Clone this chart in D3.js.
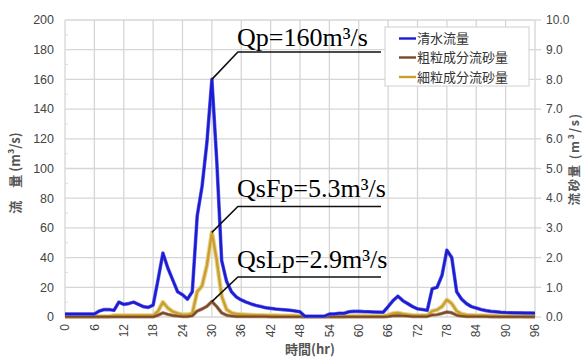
<!DOCTYPE html>
<html><head><meta charset="utf-8">
<script src="https://cdn.jsdelivr.net/npm/d3@7"></script>
<style>
html,body{margin:0;padding:0;background:#fff;}
svg{display:block;}
</style></head>
<body>
<svg id="c" width="584" height="358"></svg>
<script>
// ---- data ----
const hours = [0,1,2,3,4,5,6,7,8,9,10,11,12,13,14,15,16,17,18,19,20,21,22,23,24,25,26,27,28,29,30,31,32,33,34,35,36,37,38,39,40,41,42,43,44,45,46,47,48,49,50,51,52,53,54,55,56,57,58,59,60,61,62,63,64,65,66,67,68,69,70,71,72,73,74,75,76,77,78,79,80,81,82,83,84,85,86,87,88,89,90,91,92,93,94,95,96];
// 清水流量 (m3/s, left axis)
const clearWater = [2,2,2,2,2,2,2,4,5,5,4.5,10,8.5,9,10,8.5,7,6.5,8,25,43,33,25,17,15,12,17,68,88,118,160,105,38,24,17,13.5,11.5,10,8.8,7.8,7,6.2,5.8,5.4,5.1,4.8,4.5,4,3.5,0.5,0.5,0.5,0.5,0.5,2,2,2.5,2.5,3.5,3.8,3.8,3.6,3.5,3.4,3.3,3.2,7,11,14,11,9,7,5.5,5,4.5,19,20,28,45,40,17,12,9,7,6,5,4.3,3.8,3.5,3.2,3,2.9,2.8,2.8,2.7,2.7,2.6];
// 粗粒成分流砂量 (m3/s, right axis)
const coarseSed = [0.01,0.01,0.01,0.01,0.01,0.01,0.01,0.01,0.01,0.01,0.01,0.01,0.01,0.01,0.01,0.01,0.01,0.01,0.01,0.06,0.14,0.09,0.05,0.03,0.02,0.02,0.04,0.2,0.27,0.36,0.52,0.35,0.14,0.06,0.03,0.02,0.02,0.02,0.02,0.02,0.02,0.02,0.01,0.01,0.01,0.01,0.01,0.01,0.01,0.01,0.01,0.01,0.01,0.01,0.01,0.01,0.01,0.01,0.01,0.01,0.01,0.01,0.01,0.01,0.01,0.01,0.02,0.04,0.05,0.04,0.03,0.02,0.02,0.02,0.02,0.07,0.08,0.12,0.17,0.14,0.06,0.03,0.02,0.02,0.02,0.02,0.02,0.01,0.01,0.01,0.01,0.01,0.01,0.01,0.01,0.01,0.01];
// 細粒成分流砂量 (m3/s, right axis)
const fineSed = [0.02,0.02,0.02,0.02,0.02,0.02,0.02,0.02,0.02,0.02,0.05,0.05,0.05,0.05,0.05,0.05,0.05,0.05,0.05,0.2,0.5,0.3,0.18,0.12,0.08,0.08,0.12,0.85,1.05,1.75,2.85,1.9,0.7,0.25,0.14,0.1,0.09,0.08,0.07,0.06,0.06,0.05,0.05,0.05,0.04,0.04,0.04,0.04,0.03,0.01,0.01,0.01,0.01,0.01,0.02,0.02,0.02,0.02,0.03,0.03,0.03,0.03,0.03,0.03,0.03,0.03,0.06,0.12,0.14,0.1,0.08,0.06,0.05,0.05,0.05,0.2,0.24,0.35,0.58,0.45,0.2,0.1,0.07,0.06,0.05,0.05,0.04,0.04,0.04,0.03,0.03,0.03,0.03,0.03,0.02,0.02,0.02];

const xTicks = [0,6,12,18,24,30,36,42,48,54,60,66,72,78,84,90,96];
const leftTicks = [0,20,40,60,80,100,120,140,160,180,200];
const rightTicks = [0,1,2,3,4,5,6,7,8,9,10];
const seriesNames = ["清水流量","粗粒成分流砂量","細粒成分流砂量"];
const annotations = ["Qp=160m³/s","QsFp=5.3m³/s","QsLp=2.9m³/s"];
const xTitle = "時間(hr)";
const leftTitle = "流　量 (m³/s)";
const rightTitle = "流砂量 (m³/s)";

// ---- chart ----
const svg = d3.select("#c");
const x = d3.scaleLinear().domain([0,96]).range([65,535]);
const yL = d3.scaleLinear().domain([0,200]).range([317,20]);
const yR = d3.scaleLinear().domain([0,10]).range([317,20]);
const sansNum = "'Liberation Sans', Arial, sans-serif";
const cjk = "'Noto Sans CJK JP', 'Noto Sans CJK SC', sans-serif";
const gridCol = "#d6d6d6";

// grid
const g = svg.append("g");
g.selectAll("line.h").data(leftTicks).join("line")
  .attr("x1", x(0)).attr("x2", x(96))
  .attr("y1", d=>yL(d)).attr("y2", d=>yL(d))
  .attr("stroke", gridCol).attr("stroke-width", 1.3);
g.selectAll("line.v").data(xTicks).join("line")
  .attr("x1", d=>x(d)).attr("x2", d=>x(d))
  .attr("y1", yL(0)).attr("y2", yL(200))
  .attr("stroke", gridCol).attr("stroke-width", 1.3);
// right outward ticks
g.selectAll("line.rt").data(rightTicks).join("line")
  .attr("x1", x(96)).attr("x2", x(96)+6)
  .attr("y1", d=>yR(d)).attr("y2", d=>yR(d))
  .attr("stroke", gridCol).attr("stroke-width", 1.3);
// left minor ticks
g.selectAll("line.mt").data([10,30,50,70,90,110,130,150,170,190]).join("line")
  .attr("x1", x(0)).attr("x2", x(0)+3)
  .attr("y1", d=>yL(d)).attr("y2", d=>yL(d))
  .attr("stroke", "#dcdcdc").attr("stroke-width", 1);

// left axis labels
svg.append("g").selectAll("text").data(leftTicks).join("text")
  .attr("x", 54).attr("y", d=>yL(d)).attr("dy","0.35em")
  .attr("text-anchor","end").attr("font-family",sansNum).attr("font-size",12.5)
  .attr("fill","#444").text(d=>d);
// right axis labels
svg.append("g").selectAll("text").data(rightTicks).join("text")
  .attr("x", 546).attr("y", d=>yR(d)).attr("dy","0.35em")
  .attr("text-anchor","start").attr("font-family",sansNum).attr("font-size",12)
  .attr("fill","#444").text(d=>d3.format(".1f")(d));
// x labels rotated
svg.append("g").selectAll("text").data(xTicks).join("text")
  .attr("transform", d=>`translate(${x(d)},324) rotate(-90)`)
  .attr("dy","0.35em").attr("text-anchor","end")
  .attr("font-family",sansNum).attr("font-size",12).attr("fill","#444")
  .text(d=>d);

// axis titles
svg.append("text").attr("x",310).attr("y",354).attr("text-anchor","middle")
  .attr("font-family",cjk).attr("font-size",13).attr("font-weight","bold").attr("fill","#555").text(xTitle);
svg.append("text").attr("transform","translate(15,173) rotate(-90)").attr("dy","0.35em")
  .attr("text-anchor","middle").attr("font-family",cjk).attr("font-size",13).attr("font-weight","bold")
  .attr("fill","#555").text(leftTitle);
svg.append("text").attr("transform","translate(575,159) rotate(-90)").attr("dy","0.35em")
  .attr("text-anchor","middle").attr("font-family",cjk).attr("font-size",12.5).attr("font-weight","bold")
  .attr("letter-spacing",1.5).attr("fill","#555").text(rightTitle);

// lines
const lineL = d3.line().x((d,i)=>x(hours[i])).y(d=>yL(d));
const lineR = d3.line().x((d,i)=>x(hours[i])).y(d=>yR(d));
const colors = ["#1c1cd2","#7a4a26","#c9a02e"];
// halos
svg.append("path").attr("d", lineR(fineSed)).attr("fill","none").attr("stroke","#e8d290").attr("stroke-width",4.5).attr("stroke-linejoin","round");
svg.append("path").attr("d", lineR(coarseSed)).attr("fill","none").attr("stroke","#b08868").attr("stroke-width",3.5).attr("stroke-linejoin","round");
svg.append("path").attr("d", lineR(fineSed)).attr("fill","none").attr("stroke",colors[2]).attr("stroke-width",2.4).attr("stroke-linejoin","round");
svg.append("path").attr("d", lineR(coarseSed)).attr("fill","none").attr("stroke",colors[1]).attr("stroke-width",2).attr("stroke-linejoin","round");
svg.append("path").attr("d", lineL(clearWater)).attr("fill","none").attr("stroke","#6a6ae8").attr("stroke-width",3.6).attr("stroke-linejoin","round");
svg.append("path").attr("d", lineL(clearWater)).attr("fill","none").attr("stroke",colors[0]).attr("stroke-width",2.4).attr("stroke-linejoin","round");

// legend
const lg = svg.append("g");
lg.append("rect").attr("x",385).attr("y",27).attr("width",144).attr("height",59)
  .attr("fill","#fff").attr("stroke","#d0d0d0").attr("stroke-width",1);
const rows = [38.5,57.5,77];
seriesNames.forEach((n,i)=>{
  lg.append("line").attr("x1",399).attr("x2",416).attr("y1",rows[i]).attr("y2",rows[i])
    .attr("stroke",colors[i]).attr("stroke-width",2.4);
  lg.append("text").attr("x",417).attr("y",rows[i]).attr("dy","0.35em")
    .attr("font-family",cjk).attr("font-size",13).attr("fill","#333").text(n);
});

// annotations
const iPeak = hours.indexOf(30);
const ann = [
  {p:[x(30), yL(clearWater[iPeak])], ly:52, ty:46, t:annotations[0]},
  {p:[x(30), yR(fineSed[iPeak])], ly:206.5, ty:197, t:annotations[1]},
  {p:[x(30), yR(coarseSed[iPeak])], ly:277, ty:268, t:annotations[2]}
];
ann.forEach(a=>{
  svg.append("path").attr("d", `M${a.p[0]},${a.p[1]}L${a.p[0]+26},${a.ly}L381,${a.ly}`)
    .attr("fill","none").attr("stroke","#111").attr("stroke-width",1.6);
  svg.append("text").attr("x",237).attr("y",a.ty)
    .attr("font-family","'Liberation Serif','Times New Roman',serif").attr("font-size",26)
    .attr("fill","#000").text(a.t);
});
</script>
</body></html>
